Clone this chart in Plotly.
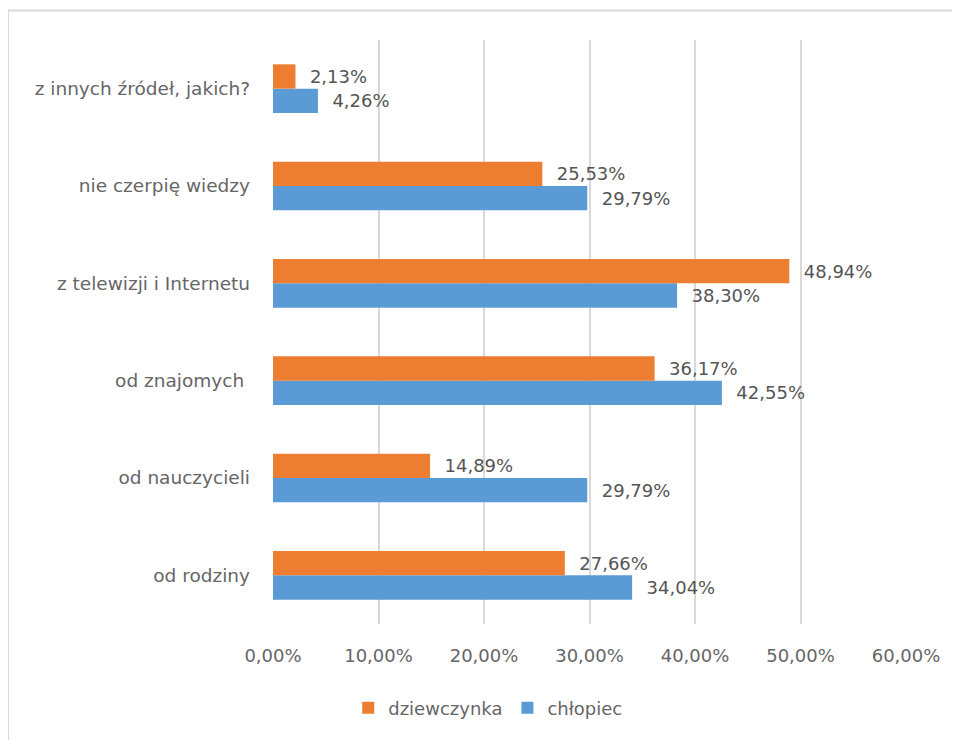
import plotly.graph_objects as go

categories = ["od rodziny", "od nauczycieli", "od znajomych ", "z telewizji i Internetu",
              "nie czerpię wiedzy", "z innych źródeł, jakich?"]
dziewczynka = [27.66, 14.89, 36.17, 48.94, 25.53, 2.13]
chlopiec = [34.04, 29.79, 42.55, 38.30, 29.79, 4.26]
series_names = ["dziewczynka", "chłopiec"]
tick_vals = [0, 10, 20, 30, 40, 50, 60]

def fmt(v):
    return f"{v:.2f}".replace(".", ",") + "%"

FONT = "DejaVu Sans"
GRAY = "#666666"
FS = 18
FS_CAT = 18.5

# page body has an 8px margin; size the figure so the plot lands where the reference has it
W, H = 952, 732
L, T = 265, 32
PW, PH = 633, 584

fig = go.Figure()
fig.add_trace(go.Bar(
    y=categories, x=chlopiec, name=series_names[1], orientation="h",
    marker=dict(color="#5B9BD5", line=dict(width=0)),
    text=[fmt(v) for v in chlopiec], texttemplate="\u00a0\u00a0%{text}", textposition="outside",
    textfont=dict(family=FONT, size=FS, color="#555555"), cliponaxis=False,
))
fig.add_trace(go.Bar(
    y=categories, x=dziewczynka, name=series_names[0], orientation="h",
    marker=dict(color="#ED7D31", line=dict(width=0)),
    text=[fmt(v) for v in dziewczynka], texttemplate="\u00a0\u00a0%{text}", textposition="outside",
    textfont=dict(family=FONT, size=FS, color="#555555"), cliponaxis=False,
))

fig.update_layout(
    width=W, height=H,
    margin=dict(l=L, r=W - L - PW, t=T, b=H - T - PH),
    paper_bgcolor="white", plot_bgcolor="white",
    barmode="group", bargap=0.5, bargroupgap=0,
    font=dict(family=FONT, size=FS, color=GRAY),
    showlegend=True,
    legend=dict(orientation="h", traceorder="reversed", x=0.34, xanchor="center",
                y=-0.144, yanchor="middle", font=dict(family=FONT, size=FS, color=GRAY),
                itemwidth=30),
    xaxis=dict(range=[0, 60], tickvals=tick_vals, ticktext=[fmt(v) for v in tick_vals],
               showgrid=True, gridcolor="#D9D9D9", gridwidth=1.5, zeroline=False,
               showline=False, ticks="", ticklabelstandoff=19,
               tickfont=dict(family=FONT, size=FS, color=GRAY)),
    yaxis=dict(showgrid=False, zeroline=False, showline=False, ticks="",
               ticklabelstandoff=22, tickfont=dict(family=FONT, size=FS_CAT, color=GRAY)),
    shapes=[dict(type="rect", xref="paper", yref="paper",
                 x0=(8 - 273) / PW, x1=1.2, y0=-0.3, y1=1 + (40 - 10.5) / PH,
                 line=dict(color="#D9D9D9", width=2), layer="below")],
)

fig.write_html("out.html")
